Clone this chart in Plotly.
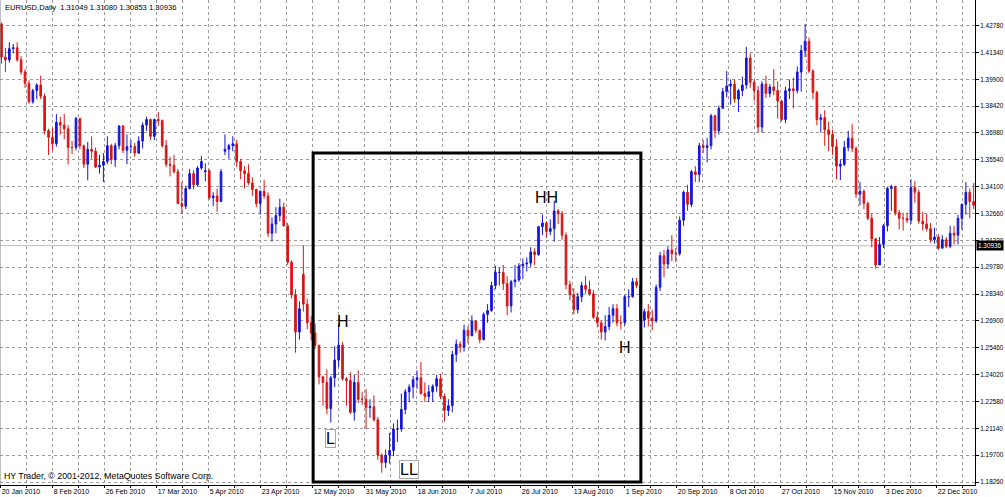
import plotly.graph_objects as go
import pandas as pd

# ---------------- data ----------------
DATES = [d.strftime("%Y-%m-%d") for d in pd.bdate_range("2010-01-20", "2011-01-04")
         if d.strftime("%Y-%m-%d") != "2010-04-02"]

OPEN = [1.4283,1.4105,1.4090,1.4150,1.4155,1.4090,1.4025,1.3965,1.3865,1.3925,
        1.3955,1.3895,1.3710,1.3675,1.3640,1.3755,1.3740,1.3720,1.3620,1.3620,
        1.3775,1.3630,1.3530,1.3610,1.3600,1.3515,1.3525,1.3545,1.3630,1.3555,
        1.3630,1.3735,1.3605,1.3625,1.3625,1.3590,1.3655,1.3740,1.3770,1.3680,
        1.3770,1.3765,1.3630,1.3530,1.3525,1.3490,1.3320,1.3305,1.3400,1.3480,
        1.3420,1.3510,1.3490,1.3495,1.3350,1.3360,1.3330,1.3600,1.3610,1.3630,
        1.3640,1.3545,1.3495,1.3480,1.3430,1.3395,1.3320,1.3385,1.3360,1.3160,
        1.3210,1.3255,1.3300,1.3200,1.3005,1.2830,1.2630,1.2940,1.2780,1.2680,
        1.2625,1.2560,1.2390,1.2360,1.2220,1.2385,1.2480,1.2560,1.2380,1.2370,
        1.2200,1.2360,1.2270,1.2270,1.2225,1.2230,1.2160,1.1970,1.1930,1.1970,
        1.1995,1.2110,1.2110,1.2215,1.2310,1.2335,1.2375,1.2385,1.2300,1.2285,
        1.2310,1.2340,1.2380,1.2285,1.2210,1.2235,1.2510,1.2565,1.2550,1.2640,
        1.2610,1.2690,1.2640,1.2590,1.2725,1.2745,1.2880,1.2950,1.2950,1.2890,
        1.2770,1.2900,1.2910,1.2985,1.2995,1.3000,1.3060,1.3045,1.3195,1.3215,
        1.3170,1.3185,1.3280,1.3265,1.3150,1.2885,1.2830,1.2750,1.2820,1.2880,
        1.2860,1.2835,1.2710,1.2680,1.2630,1.2660,1.2720,1.2755,1.2680,1.2680,
        1.2820,1.2820,1.2900,1.2880,1.2695,1.2740,1.2705,1.2690,1.2870,1.3040,
        1.2995,1.3070,1.3050,1.3050,1.3230,1.3380,1.3315,1.3490,1.3475,1.3630,
        1.3620,1.3630,1.3790,1.3710,1.3830,1.3920,1.3950,1.3960,1.3880,1.3925,
        1.3955,1.4100,1.3970,1.3925,1.3730,1.3960,1.3910,1.3945,1.3925,1.3870,
        1.3770,1.3925,1.3935,1.3925,1.4025,1.4140,1.4190,1.4030,1.3915,1.3770,
        1.3780,1.3715,1.3690,1.3625,1.3520,1.3530,1.3620,1.3670,1.3615,1.3370,
        1.3385,1.3320,1.3240,1.3130,1.2990,1.3100,1.3200,1.3400,1.3410,1.3270,
        1.3240,1.3240,1.3230,1.3405,1.3380,1.3225,1.3210,1.3185,1.3125,1.3140,
        1.3080,1.3125,1.3090,1.3160,1.3150,1.3240,1.3315,1.3380,1.3330]

HIGH = [1.4290,1.4155,1.4185,1.4175,1.4185,1.4110,1.4040,1.3980,1.3935,1.3965,
        1.4005,1.3910,1.3720,1.3725,1.3800,1.3785,1.3800,1.3740,1.3655,1.3785,
        1.3780,1.3635,1.3650,1.3680,1.3620,1.3580,1.3590,1.3680,1.3640,1.3645,
        1.3740,1.3740,1.3690,1.3660,1.3645,1.3680,1.3755,1.3785,1.3775,1.3775,
        1.3810,1.3770,1.3660,1.3570,1.3580,1.3505,1.3435,1.3415,1.3505,1.3500,
        1.3520,1.3575,1.3535,1.3505,1.3380,1.3400,1.3505,1.3690,1.3640,1.3680,
        1.3660,1.3560,1.3520,1.3530,1.3460,1.3400,1.3390,1.3445,1.3380,1.3245,
        1.3300,1.3345,1.3325,1.3215,1.3015,1.2860,1.2795,1.3095,1.2810,1.2715,
        1.2675,1.2560,1.2395,1.2430,1.2395,1.2555,1.2675,1.2575,1.2390,1.2415,
        1.2400,1.2425,1.2310,1.2325,1.2270,1.2290,1.2175,1.1980,1.2000,1.2090,
        1.2140,1.2160,1.2300,1.2325,1.2350,1.2395,1.2425,1.2470,1.2360,1.2345,
        1.2350,1.2400,1.2405,1.2300,1.2270,1.2530,1.2590,1.2580,1.2670,1.2660,
        1.2720,1.2690,1.2640,1.2735,1.2780,1.2900,1.2985,1.2975,1.2990,1.2930,
        1.2910,1.2990,1.3000,1.3025,1.3030,1.3085,1.3080,1.3200,1.3260,1.3225,
        1.3235,1.3335,1.3290,1.3280,1.3165,1.2905,1.2865,1.2840,1.2900,1.2930,
        1.2905,1.2855,1.2740,1.2690,1.2720,1.2765,1.2780,1.2780,1.2720,1.2830,
        1.2860,1.2920,1.2920,1.2880,1.2755,1.2780,1.2750,1.2885,1.3060,1.3070,
        1.3090,1.3150,1.3080,1.3250,1.3390,1.3420,1.3500,1.3520,1.3645,1.3660,
        1.3670,1.3800,1.3795,1.3845,1.3940,1.4030,1.3985,1.3985,1.3935,1.4000,
        1.4160,1.4125,1.3985,1.3950,1.3975,1.4005,1.3960,1.4040,1.3975,1.3875,
        1.3945,1.3985,1.3995,1.4055,1.4170,1.4282,1.4210,1.4040,1.3925,1.3800,
        1.3820,1.3760,1.3715,1.3665,1.3555,1.3655,1.3710,1.3745,1.3625,1.3435,
        1.3395,1.3330,1.3265,1.3135,1.3140,1.3210,1.3410,1.3420,1.3415,1.3285,
        1.3270,1.3270,1.3450,1.3440,1.3395,1.3275,1.3265,1.3215,1.3190,1.3155,
        1.3150,1.3140,1.3200,1.3200,1.3260,1.3320,1.3435,1.3400,1.3430]

LOW = [1.4070,1.4025,1.4075,1.4125,1.4080,1.4010,1.3940,1.3855,1.3855,1.3880,
       1.3880,1.3690,1.3580,1.3605,1.3625,1.3690,1.3665,1.3530,1.3585,1.3605,
       1.3610,1.3510,1.3444,1.3560,1.3510,1.3480,1.3435,1.3530,1.3530,1.3515,
       1.3610,1.3590,1.3530,1.3590,1.3570,1.3585,1.3615,1.3710,1.3660,1.3660,
       1.3735,1.3620,1.3515,1.3465,1.3480,1.3315,1.3265,1.3290,1.3395,1.3395,
       1.3410,1.3500,1.3440,1.3340,1.3305,1.3275,1.3330,1.3580,1.3560,1.3600,
       1.3515,1.3450,1.3400,1.3420,1.3360,1.3300,1.3260,1.3345,1.3140,1.3115,
       1.3160,1.3225,1.3195,1.2990,1.2810,1.2520,1.2590,1.2740,1.2645,1.2585,
       1.2540,1.2350,1.2235,1.2190,1.2145,1.2335,1.2445,1.2370,1.2235,1.2190,
       1.2155,1.2250,1.2240,1.2110,1.2170,1.2150,1.1945,1.1876,1.1900,1.1925,
       1.1965,1.2040,1.2095,1.2190,1.2255,1.2275,1.2325,1.2295,1.2255,1.2255,
       1.2255,1.2310,1.2270,1.2150,1.2180,1.2200,1.2470,1.2520,1.2525,1.2570,
       1.2610,1.2625,1.2570,1.2585,1.2680,1.2740,1.2860,1.2880,1.2855,1.2720,
       1.2735,1.2870,1.2900,1.2915,1.2955,1.2980,1.2990,1.3040,1.3150,1.3135,
       1.3150,1.3115,1.3210,1.3125,1.2860,1.2800,1.2725,1.2730,1.2790,1.2835,
       1.2825,1.2700,1.2655,1.2590,1.2585,1.2640,1.2680,1.2660,1.2645,1.2665,
       1.2765,1.2815,1.2865,1.2690,1.2655,1.2660,1.2640,1.2680,1.2850,1.2925,
       1.2970,1.3010,1.3005,1.3040,1.3200,1.3280,1.3300,1.3435,1.3435,1.3590,
       1.3540,1.3610,1.3670,1.3690,1.3830,1.3890,1.3850,1.3860,1.3810,1.3895,
       1.3935,1.3940,1.3870,1.3700,1.3700,1.3885,1.3890,1.3900,1.3775,1.3760,
       1.3750,1.3880,1.3830,1.3910,1.3920,1.4105,1.4020,1.3880,1.3740,1.3700,
       1.3630,1.3600,1.3580,1.3450,1.3445,1.3520,1.3600,1.3595,1.3350,1.3310,
       1.3290,1.3230,1.3085,1.2970,1.2990,1.3080,1.3170,1.3280,1.3255,1.3180,
       1.3175,1.3215,1.3210,1.3325,1.3210,1.3175,1.3170,1.3110,1.3105,1.3070,
       1.3080,1.3080,1.3080,1.3100,1.3100,1.3180,1.3260,1.3240,1.3290]

CLOSE = [1.4105,1.4090,1.4150,1.4155,1.4090,1.4025,1.3965,1.3865,1.3925,1.3955,
         1.3895,1.3710,1.3675,1.3640,1.3755,1.3740,1.3720,1.3620,1.3620,1.3775,
         1.3630,1.3530,1.3610,1.3600,1.3515,1.3525,1.3545,1.3630,1.3555,1.3630,
         1.3735,1.3605,1.3625,1.3625,1.3590,1.3655,1.3740,1.3770,1.3680,1.3770,
         1.3765,1.3630,1.3530,1.3525,1.3490,1.3320,1.3305,1.3400,1.3480,1.3420,
         1.3510,1.3545,1.3495,1.3350,1.3360,1.3330,1.3490,1.3610,1.3630,1.3640,
         1.3545,1.3495,1.3480,1.3430,1.3395,1.3320,1.3385,1.3360,1.3160,1.3210,
         1.3255,1.3300,1.3200,1.3005,1.2830,1.2630,1.2755,1.2780,1.2680,1.2625,
         1.2560,1.2390,1.2360,1.2220,1.2385,1.2480,1.2560,1.2380,1.2370,1.2200,
         1.2360,1.2270,1.2270,1.2225,1.2230,1.2160,1.1970,1.1930,1.1970,1.1995,
         1.2110,1.2110,1.2215,1.2310,1.2335,1.2375,1.2385,1.2300,1.2285,1.2310,
         1.2340,1.2380,1.2285,1.2210,1.2235,1.2510,1.2565,1.2550,1.2640,1.2610,
         1.2690,1.2640,1.2590,1.2725,1.2745,1.2880,1.2950,1.2950,1.2890,1.2770,
         1.2900,1.2910,1.2985,1.2995,1.3000,1.3060,1.3045,1.3195,1.3215,1.3170,
         1.3185,1.3280,1.3265,1.3150,1.2885,1.2830,1.2750,1.2820,1.2880,1.2860,
         1.2835,1.2710,1.2680,1.2630,1.2660,1.2720,1.2755,1.2680,1.2680,1.2820,
         1.2820,1.2900,1.2880,1.2695,1.2740,1.2705,1.2690,1.2870,1.3040,1.2995,
         1.3070,1.3050,1.3050,1.3230,1.3380,1.3315,1.3490,1.3475,1.3630,1.3620,
         1.3630,1.3790,1.3710,1.3830,1.3920,1.3950,1.3960,1.3880,1.3925,1.3955,
         1.4100,1.3970,1.3925,1.3730,1.3960,1.3910,1.3945,1.3925,1.3870,1.3770,
         1.3925,1.3935,1.3925,1.4025,1.4140,1.4190,1.4030,1.3915,1.3770,1.3780,
         1.3715,1.3690,1.3625,1.3520,1.3530,1.3620,1.3670,1.3615,1.3370,1.3385,
         1.3320,1.3240,1.3130,1.2990,1.3100,1.3200,1.3400,1.3410,1.3270,1.3240,
         1.3240,1.3230,1.3405,1.3380,1.3225,1.3210,1.3185,1.3125,1.3140,1.3080,
         1.3125,1.3090,1.3160,1.3150,1.3240,1.3315,1.3380,1.3330,1.3310]

X_LABELS = ["20 Jan 2010", "8 Feb 2010", "26 Feb 2010", "17 Mar 2010", "5 Apr 2010",
            "23 Apr 2010", "12 May 2010", "31 May 2010", "18 Jun 2010", "7 Jul 2010",
            "26 Jul 2010", "13 Aug 2010", "1 Sep 2010", "20 Sep 2010", "8 Oct 2010",
            "27 Oct 2010", "15 Nov 2010", "3 Dec 2010", "22 Dec 2010"]
Y_LABELS = ["1.18260", "1.19700", "1.21140", "1.22580", "1.24020", "1.25460",
            "1.26900", "1.28340", "1.29780", "1.31220", "1.32660", "1.34100",
            "1.35540", "1.36980", "1.38420", "1.39900", "1.41340", "1.42780"]
CURRENT_PRICE = 1.30936
CURRENT_LABEL = "1.30936"
HEADER = "EURUSD,Daily\u00a0\u00a01.31049 1.31080 1.30853 1.30936"
FOOTER = "HY Trader, \u00a9 2001-2012, MetaQuotes Software Corp."

# text objects drawn on the chart: (text, anchor date, anchor price, boxed)
TEXT_OBJECTS = [("H", "2010-05-24", 1.2689, False),
                ("HH", "2010-08-04", 1.3354, False),
                ("H", "2010-09-01", 1.2547, False),
                ("L", "2010-05-19", 1.2062, True),
                ("LL", "2010-06-16", 1.18904, True)]
# rectangle object: (start date, end date, top price, bottom price)
RECT = ("2010-05-12", "2010-09-07", 1.3590, 1.1826)

# ---------------- layout constants ----------------
BLUE = "#1414dc"
RED = "#dc1414"
GRID = "#9c9c9c"
FONT = "Liberation Sans"
Y_STEP = 0.0144
Y_BASE = 1.1826
X_GRID_STEP = 6.633   # bars between vertical grid lines (fixed pixel grid)
X_GRID_0 = -0.2

n = len(CLOSE)
assert len(OPEN) == n and len(HIGH) == n and len(LOW) == n and len(DATES) == n, (len(OPEN), len(HIGH), len(LOW), n, len(DATES))
x = list(range(n))
idx = {d: i for i, d in enumerate(DATES)}

fig = go.Figure()
fig.add_trace(go.Candlestick(
    x=x, open=OPEN, high=HIGH, low=LOW, close=CLOSE,
    increasing=dict(line=dict(color=BLUE, width=1), fillcolor=BLUE),
    decreasing=dict(line=dict(color=RED, width=1), fillcolor=RED),
    whiskerwidth=0, hoverinfo="skip", showlegend=False))

n_grid = 38
xtickvals = [X_GRID_0 + k * X_GRID_STEP for k in range(n_grid)]
xticktext = [X_LABELS[k // 2] if k % 2 == 0 and k // 2 < len(X_LABELS) else "" for k in range(n_grid)]
ytickvals = [Y_BASE + k * Y_STEP for k in range(len(Y_LABELS))]

fig.update_layout(
    width=1005, height=497,
    margin=dict(l=0, r=30, t=0, b=12),
    paper_bgcolor="white", plot_bgcolor="white",
    boxgap=0.4,
    showlegend=False,
    xaxis=dict(range=[-0.383, 248.34], tickmode="array", tickvals=xtickvals, ticktext=xticktext,
               showgrid=True, gridcolor=GRID, griddash="3px,3px", gridwidth=1,
               ticks="outside", ticklen=2, tickcolor="black",
               ticklabelposition="outside right",
               tickfont=dict(family=FONT, size=7, color="black"),
               showline=True, linecolor="black", linewidth=1,
               zeroline=False, rangeslider=dict(visible=False), fixedrange=True),
    yaxis=dict(side="right", range=[1.18099, 1.44111], tickmode="array",
               tickvals=ytickvals, ticktext=Y_LABELS,
               showgrid=True, gridcolor=GRID, griddash="3px,3px", gridwidth=1,
               ticks="outside", ticklen=3, tickcolor="black",
               tickfont=dict(family=FONT, size=6.4, color="black"),
               showline=True, linecolor="black", linewidth=1,
               zeroline=False, fixedrange=True),
)

shapes = []
# left chart border
shapes.append(dict(type="line", xref="paper", yref="paper", x0=0, x1=0, y0=0, y1=1,
                   line=dict(color="#808080", width=1)))
# current price line
shapes.append(dict(type="line", xref="paper", yref="y", x0=0, x1=1, y0=CURRENT_PRICE, y1=CURRENT_PRICE,
                   line=dict(color="#c0c0c0", width=1), layer="below"))
# rectangle object
shapes.append(dict(type="rect", xref="x", yref="y",
                   x0=idx[RECT[0]] + 0.5, x1=idx[RECT[1]] + 0.1, y0=RECT[3], y1=RECT[2],
                   line=dict(color="black", width=3), fillcolor="rgba(0,0,0,0)"))
fig.update_layout(shapes=shapes)

ann = []
for text, d, price, boxed in TEXT_OBJECTS:
    a = dict(x=idx[d], y=price, xref="x", yref="y", text=text, showarrow=False,
             xanchor="center", yanchor="middle",
             font=dict(family=FONT, size=16, color="black"))
    if boxed:
        a.update(bordercolor="#a8a8a8", borderwidth=1, borderpad=0, bgcolor="white")
    ann.append(a)
ann.append(dict(x=1, y=CURRENT_PRICE, xref="paper", yref="y", text=CURRENT_LABEL, showarrow=False,
                xanchor="left", yanchor="middle", xshift=1, bgcolor="black", borderpad=1,
                font=dict(family=FONT, size=6.4, color="white")))
ann.append(dict(x=0, y=1, xref="paper", yref="paper", text=HEADER, showarrow=False,
                xanchor="left", yanchor="top", xshift=3, yshift=-1,
                font=dict(family=FONT, size=7.6, color="black")))
ann.append(dict(x=0, y=0, xref="paper", yref="paper", text=FOOTER, showarrow=False,
                xanchor="left", yanchor="bottom", xshift=2, yshift=2,
                font=dict(family=FONT, size=8.8, color="black")))
fig.update_layout(annotations=ann)

fig.write_html("out.html", config={"displayModeBar": False, "staticPlot": True},
               post_script="document.body.style.margin='0px';document.body.style.padding='0px';")
